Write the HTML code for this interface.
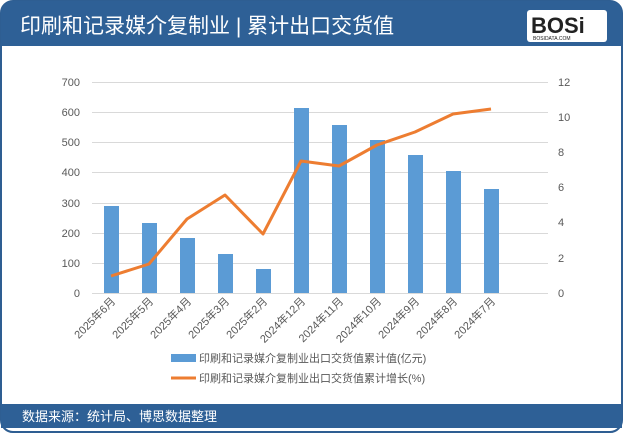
<!DOCTYPE html>
<html><head><meta charset="utf-8"><style>
body{margin:0;width:623px;height:433px;background:#fff;overflow:hidden;font-family:"Liberation Sans","Noto Sans CJK SC",sans-serif}
</style></head><body>
<svg width="623" height="433" xmlns="http://www.w3.org/2000/svg" font-family="Liberation Sans, Noto Sans CJK SC, sans-serif">
<rect x="1" y="1" width="621" height="431" rx="12" fill="#fff" stroke="#2e5e92" stroke-width="2"/>
<path d="M1 13 A12 12 0 0 1 13 1 H610 A12 12 0 0 1 622 13 V46 H1 Z" fill="#2e6096"/>
<text x="20" y="33" font-size="21" fill="#fff">印刷和记录媒介复制业 | 累计出口交货值</text>
<rect x="527" y="10" width="80" height="32" rx="3" fill="#fff"/>
<text x="531" y="33" font-size="22" font-weight="bold" fill="#222">BOSi</text>
<text x="533" y="40" font-size="5" fill="#222">BOSIDATA.COM</text>
<rect x="1" y="404" width="621" height="24" fill="#2e6096"/>
<text x="22" y="421" font-size="13" fill="#fff">数据来源：统计局、博思数据整理</text>
<g stroke="#d9d9d9" stroke-width="1">
<line x1="92" y1="82.5" x2="548" y2="82.5"/><line x1="92" y1="112.5" x2="548" y2="112.5"/><line x1="92" y1="142.5" x2="548" y2="142.5"/><line x1="92" y1="172.5" x2="548" y2="172.5"/><line x1="92" y1="203.5" x2="548" y2="203.5"/><line x1="92" y1="233.5" x2="548" y2="233.5"/><line x1="92" y1="263.5" x2="548" y2="263.5"/><line x1="92" y1="293.5" x2="548" y2="293.5"/>
</g>
<g fill="#5b9bd5">
<rect x="104" y="206" width="15" height="87"/><rect x="142" y="223" width="15" height="70"/><rect x="180" y="238" width="15" height="55"/><rect x="218" y="254" width="15" height="39"/><rect x="256" y="269" width="15" height="24"/><rect x="294" y="108" width="15" height="185"/><rect x="332" y="125" width="15" height="168"/><rect x="370" y="140" width="15" height="153"/><rect x="408" y="155" width="15" height="138"/><rect x="446" y="171" width="15" height="122"/><rect x="484" y="189" width="15" height="104"/>
</g>
<polyline fill="none" stroke="#ed7d31" stroke-width="3" stroke-linejoin="round" points="111,276 149,264 187,219 225,195 263,234 301,161 339,166 377,145 415,132 453,114 491,109"/>
<g font-size="11" fill="#595959" text-anchor="end">
<text x="80" y="86">700</text><text x="80" y="116">600</text><text x="80" y="146">500</text><text x="80" y="176">400</text><text x="80" y="207">300</text><text x="80" y="237">200</text><text x="80" y="267">100</text><text x="80" y="297">0</text>
</g>
<g font-size="11" fill="#595959" text-anchor="start">
<text x="558" y="86">12</text><text x="558" y="121">10</text><text x="558" y="156">8</text><text x="558" y="191">6</text><text x="558" y="226">4</text><text x="558" y="262">2</text><text x="558" y="297">0</text>
</g>
<g font-size="11" fill="#595959" text-anchor="end">
<text transform="translate(116,302) rotate(-45)">2025年6月</text>
<text transform="translate(154,302) rotate(-45)">2025年5月</text>
<text transform="translate(192,302) rotate(-45)">2025年4月</text>
<text transform="translate(230,302) rotate(-45)">2025年3月</text>
<text transform="translate(268,302) rotate(-45)">2025年2月</text>
<text transform="translate(306,302) rotate(-45)">2024年12月</text>
<text transform="translate(344,302) rotate(-45)">2024年11月</text>
<text transform="translate(382,302) rotate(-45)">2024年10月</text>
<text transform="translate(420,302) rotate(-45)">2024年9月</text>
<text transform="translate(458,302) rotate(-45)">2024年8月</text>
<text transform="translate(496,302) rotate(-45)">2024年7月</text>
</g>
<rect x="171" y="354" width="25" height="8" fill="#5b9bd5"/>
<text x="199" y="362" font-size="11" fill="#595959">印刷和记录媒介复制业出口交货值累计值(亿元)</text>
<line x1="171" y1="378" x2="196" y2="378" stroke="#ed7d31" stroke-width="3"/>
<text x="199" y="382" font-size="11" fill="#595959">印刷和记录媒介复制业出口交货值累计增长(%)</text>
</svg>
</body></html>
